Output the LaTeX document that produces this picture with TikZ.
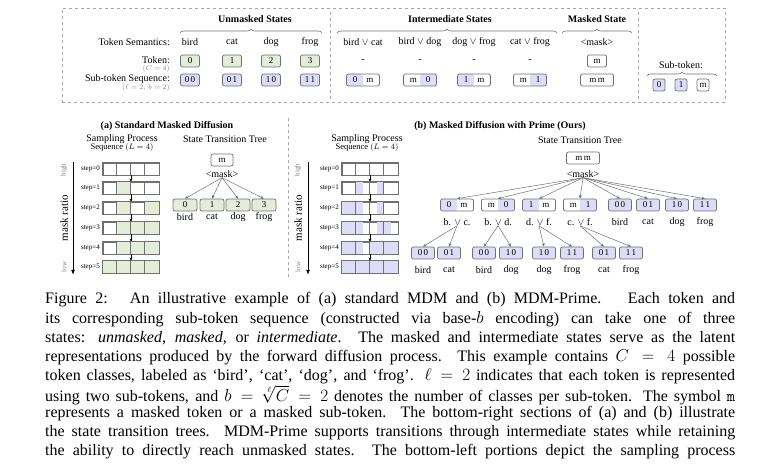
\documentclass[tikz,border=0pt]{standalone}
\usepackage{fontspec}
\setmainfont{Liberation Serif}
\usetikzlibrary{decorations.pathreplacing,arrows.meta,calc}
\definecolor{grn}{HTML}{E3EDD8}
\definecolor{pur}{HTML}{DDDDF7}
\definecolor{bd}{HTML}{707070}
\tikzset{
 tk/.style={draw=bd, rounded corners=2pt, minimum height=12pt, minimum width=19pt, inner sep=0pt, font=\fontsize{9}{9}\selectfont, line width=0.7pt},
 wtk/.style={tk, minimum width=33pt},
 g/.style={fill=grn}, p/.style={fill=pur},
 halfL/.style={path picture={\fill[pur] (path picture bounding box.south west) rectangle (path picture bounding box.north);}},
 halfR/.style={path picture={\fill[pur] (path picture bounding box.south east) rectangle (path picture bounding box.north);}},
 lbl/.style={font=\fontsize{10}{10}\selectfont, inner sep=0pt},
 ttl/.style={font=\fontsize{10}{10}\selectfont\bfseries, inner sep=0pt},
 sm/.style={font=\fontsize{7}{7}\selectfont, inner sep=0pt},
 brc/.style={decorate, decoration={brace, amplitude=4pt}, draw=bd, line width=0.6pt},
 sep/.style={draw=gray!70, dashed, line width=0.6pt},
 arr/.style={-{Stealth[length=3.5pt,width=3pt]}, draw=bd, line width=0.5pt},
 sarr/.style={-{Stealth[length=3pt,width=3pt]}, line width=0.6pt},
 bar/.style={draw=bd, line width=0.7pt, minimum width=56pt, minimum height=12pt, inner sep=0pt},
 captxt/.style={anchor=west, inner sep=0pt, font=\fontsize{16}{19}\selectfont}
}
\begin{document}
\begin{tikzpicture}[x=1pt,y=-1pt]
\useasboundingbox (0,0) rectangle (780,470);
% ===== top panel =====
\node[draw=gray!70, dashed, line width=0.6pt, minimum width=663pt, minimum height=94pt, inner sep=0pt] (topbox) at (393.5,55) {};
\draw[sep] (330,12) -- (330,100);
\draw[sep] (638,12) -- (638,100);
\node[ttl] (hu) at (255,19) {Unmasked States};
\node[ttl] (hi) at (450,19) {Intermediate States};
\node[ttl] (hm) at (597,19) {Masked State};
\draw[brc] (180,33) -- (322,33);
\draw[brc] (337,33) -- (557,33);
\draw[brc] (562,33) -- (632,33);
\node[lbl, anchor=east] (rs) at (170,42) {Token Semantics:};
\node[lbl, anchor=east] (rt) at (170,60) {Token:};
\node[sm, anchor=east, text=gray] (rtc) at (170,69) {$(C=4)$};
\node[lbl, anchor=east] (rq) at (170,79) {Sub-token Sequence:};
\node[sm, anchor=east, text=gray] (rqc) at (170,88) {$(\ell=2,\,b=2)$};
% unmasked
\foreach \x/\w/\t/\s [count=\i] in {190/bird/0/0\,0, 232/cat/1/0\,1, 271/dog/2/1\,0, 310/frog/3/1\,1}{
  \node[lbl] (sw\i) at (\x,42) {\w};
  \node[tk,g] (tu\i) at (\x,61) {\t};
  \node[tk,p] (su\i) at (\x,80) {\s};
}
% intermediate
\node[lbl] (iw1) at (363,42) {bird $\vee$ cat};
\node[lbl] (iw2) at (420,42) {bird $\vee$ dog};
\node[lbl] (iw3) at (474,42) {dog $\vee$ frog};
\node[lbl] (iw4) at (530,42) {cat $\vee$ frog};
\foreach \x [count=\i] in {363,420,474,530}{ \node[lbl] (id\i) at (\x,61) {-}; }
\node[wtk,halfL] (is1) at (363,80) {0\hspace{9pt}m};
\node[wtk,halfR] (is2) at (420,80) {m\hspace{9pt}0};
\node[wtk,halfL] (is3) at (474,80) {1\hspace{9pt}m};
\node[wtk,halfR] (is4) at (530,80) {m\hspace{9pt}1};
% masked
\node[lbl] (mw) at (597,42) {<mask>};
\node[tk] (mt) at (597,61) {m};
\node[wtk] (ms) at (597,80) {m\,m};
% sub-token legend
\node[lbl] (stl) at (681,65) {Sub-token:};
\draw[brc] (647,76) -- (717,76);
\node[tk,p,minimum width=12pt] (st0) at (659,85) {0};
\node[tk,p,minimum width=12pt] (st1) at (681,85) {1};
\node[tk,minimum width=12pt] (stm) at (703,85) {m};
% ===== (a) =====
\draw[sep] (288,118) -- (288,280);
\node[ttl] (ta) at (167,126) {(a) Standard Masked Diffusion};
\node[lbl] (spa) at (122,139) {Sampling Process};
\node[sm,font=\fontsize{8.5}{8.5}\selectfont] (sqa) at (122,148) {Sequence $(L=4)$};
\node[lbl] (stta) at (225,139) {State Transition Tree};
\def\ys{169,188,208,228,248,267}
\foreach \y [count=\i from 0] in \ys {
  \node[bar] (a\i) at (131,\y) {};
  \node[sm, anchor=east] (al\i) at (100,\y) {step=\i};
}
\foreach \r/\c in {1/2, 2/2,2/4, 3/2,3/3,3/4, 4/2,4/3,4/4, 5/1,5/2,5/3,5/4}{
  \fill[grn] ($(a\r.west)+(\c*14-14,-6)$) rectangle ++(14,12);
}
\foreach \i in {0,...,5}{
  \draw[bd, line width=0.7pt] (a\i.north west) rectangle (a\i.south east);
  \foreach \k in {1,2,3} \draw[bd, line width=0.5pt] ($(a\i.north west)+(\k*14,0)$) -- ++(0,12);
}
\foreach \i [evaluate=\i as \j using int(\i+1)] in {0,...,4} \draw[sarr] (a\i.south) -- (a\j.north);
\coordinate (hiA) at (73,162); \coordinate (loA) at (73,275);
\draw[-{Latex[length=5pt]}, line width=1pt] (hiA) -- (loA);
\node[sm, rotate=90, text=gray] (hia) at (64,170) {high};
\node[sm, rotate=90, text=gray] (loa) at (64,267) {low};
\node[lbl, rotate=90, font=\fontsize{11}{11}\selectfont] (mra) at (64,218) {mask ratio};
\node[tk, minimum width=22pt] (ra) at (222,160) {m};
\node[lbl] (rla) at (222,174) {<mask>};
\foreach \x/\t/\w [count=\i] in {185/0/bird, 212/1/cat, 238/2/dog, 264/3/frog}{
  \node[tk,g,minimum width=24pt] (ca\i) at (\x,205) {\t};
  \node[lbl] (cal\i) at (\x,217) {\w};
  \draw[arr] (rla.south) -- (ca\i.north);
}
% ===== (b) =====
\node[ttl] (tb) at (500,126) {(b) Masked Diffusion with Prime (Ours)};
\node[lbl] (spb) at (367,139) {Sampling Process};
\node[sm,font=\fontsize{8.5}{8.5}\selectfont] (sqb) at (367,148) {Sequence $(L=4)$};
\node[lbl] (sttb) at (580,140) {State Transition Tree};
\foreach \y [count=\i from 0] in \ys {
  \node[bar] (b\i) at (370,\y) {};
  \node[sm, anchor=east] (bl\i) at (339,\y) {step=\i};
}
\foreach \r/\s/\n in {1/2/1, 1/5/1, 2/0/3, 2/5/1, 3/0/3, 3/5/1, 3/6/1, 4/0/3, 4/4/4, 5/0/8}{
  \fill[pur] ($(b\r.west)+(\s*7,-6)$) rectangle ++(\n*7,12);
}
\foreach \i in {0,...,5}{
  \draw[bd, line width=0.7pt] (b\i.north west) rectangle (b\i.south east);
  \foreach \k in {1,2,3} \draw[bd, line width=0.5pt] ($(b\i.north west)+(\k*14,0)$) -- ++(0,12);
}
\foreach \i [evaluate=\i as \j using int(\i+1)] in {0,...,4} \draw[sarr] (b\i.south) -- (b\j.north);
\coordinate (hiB) at (308,162); \coordinate (loB) at (308,275);
\draw[-{Latex[length=5pt]}, line width=1pt] (hiB) -- (loB);
\node[sm, rotate=90, text=gray] (hib) at (298,170) {high};
\node[sm, rotate=90, text=gray] (lob) at (298,267) {low};
\node[lbl, rotate=90, font=\fontsize{11}{11}\selectfont] (mrb) at (298,218) {mask ratio};
\node[wtk] (rb) at (583,158) {m\,m};
\node[lbl] (rlb) at (583,174) {<mask>};
\node[wtk,halfL] (c1) at (457,205) {0\hspace{9pt}m};
\node[wtk,halfR] (c2) at (498,205) {m\hspace{9pt}0};
\node[wtk,halfL] (c3) at (539,205) {1\hspace{9pt}m};
\node[wtk,halfR] (c4) at (580,205) {m\hspace{9pt}1};
\node[tk,p,minimum width=23pt] (c5) at (620,205) {0\,0};
\node[tk,p,minimum width=23pt] (c6) at (648,205) {0\,1};
\node[tk,p,minimum width=23pt] (c7) at (677,205) {1\,0};
\node[tk,p,minimum width=23pt] (c8) at (705,205) {1\,1};
\foreach \x/\w [count=\i] in {457/b. $\vee$ c., 498/b. $\vee$ d., 539/d. $\vee$ f., 580/c. $\vee$ f., 620/bird, 648/cat, 677/dog, 705/frog}{
  \node[lbl] (cl\i) at (\x,222) {\w};
  \draw[arr] (rlb.south) -- (c\i.north);
}
\foreach \x/\t/\w/\p [count=\i] in {423/0\,0/bird/1, 449/0\,1/cat/1, 484/0\,0/bird/2, 511/1\,0/dog/2, 544/1\,0/dog/3, 572/1\,1/frog/3, 604/0\,1/cat/4, 631/1\,1/frog/4}{
  \node[tk,p,minimum width=23pt] (d\i) at (\x,253) {\t};
  \node[lbl] (dl\i) at (\x,270) {\w};
  \draw[arr] (cl\p.south) -- (d\i.north);
}
% ===== caption =====
\node[captxt] (L1) at (45,300) {\makebox[690pt][s]{Figure 2: \ An illustrative example of (a) standard MDM and (b) MDM-Prime. \ Each token and}};
\node[captxt] (L2) at (45,319) {\makebox[690pt][s]{its corresponding sub-token sequence (constructed via base-$b$ encoding) can take one of three}};
\node[captxt] (L3) at (45,338) {\makebox[690pt][s]{states: \emph{unmasked}, \emph{masked}, or \emph{intermediate}. The masked and intermediate states serve as the latent}};
\node[captxt] (L4) at (45,357) {\makebox[690pt][s]{representations produced by the forward diffusion process. This example contains $C=4$ possible}};
\node[captxt] (L5) at (45,376) {\makebox[690pt][s]{token classes, labeled as `bird', `cat', `dog', and `frog'. $\ell=2$ indicates that each token is represented}};
\node[captxt] (L6) at (45,395) {\makebox[690pt][s]{using two sub-tokens, and $b=\sqrt[\ell]{C}=2$ denotes the number of classes per sub-token. The symbol \texttt{m}}};
\node[captxt] (L7) at (45,414) {\makebox[690pt][s]{represents a masked token or a masked sub-token. The bottom-right sections of (a) and (b) illustrate}};
\node[captxt] (L8) at (45,433) {\makebox[690pt][s]{the state transition trees. MDM-Prime supports transitions through intermediate states while retaining}};
\node[captxt] (L9) at (45,452) {\makebox[690pt][s]{the ability to directly reach unmasked states. The bottom-left portions depict the sampling process}};
\end{tikzpicture}
\end{document}
